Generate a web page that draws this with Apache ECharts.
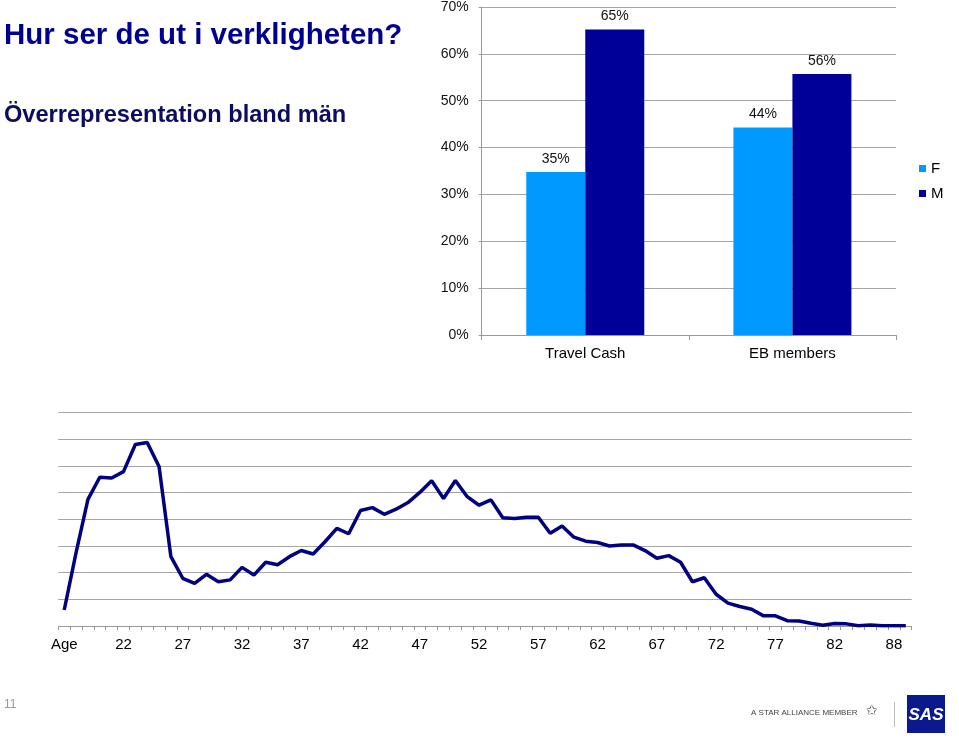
<!DOCTYPE html>
<html>
<head>
<meta charset="utf-8">
<script src="https://cdn.jsdelivr.net/npm/echarts@6/dist/echarts.min.js"></script>
<style>
html,body{margin:0;padding:0;background:#fff;}
#c{width:959px;height:739px;}
</style>
</head>
<body>
<div id="c"></div>
<script>
// Bar chart data
const barCategories = ['Travel Cash', 'EB members'];
const seriesF = [0.348, 0.443];
const seriesM = [0.652, 0.557];
const barTicks = [0, 0.1, 0.2, 0.3, 0.4, 0.5, 0.6, 0.7];

// Age distribution line data
const ageLabels = ['Age'];
for (let a = 18; a <= 86; a++) ageLabels.push(String(a));
ageLabels.push('88', '89');
const ageValues = [
  0.6, 2.75, 4.75, 5.58, 5.55, 5.79, 6.81, 6.88, 5.98, 2.6,
  1.79, 1.6, 1.94, 1.66, 1.73, 2.2, 1.91, 2.39, 2.3, 2.6,
  2.83, 2.7, 3.16, 3.66, 3.46, 4.33, 4.44, 4.19, 4.38, 4.63,
  5.01, 5.45, 4.78, 5.46, 4.85, 4.53, 4.73, 4.06, 4.03, 4.08,
  4.08, 3.48, 3.75, 3.33, 3.18, 3.13, 3.0, 3.04, 3.04, 2.83,
  2.54, 2.64, 2.39, 1.66, 1.81, 1.19, 0.86, 0.73, 0.63, 0.38,
  0.38, 0.2, 0.19, 0.1, 0.03, 0.09, 0.08, 0.01, 0.04, 0.01,
  0.01, 0.01
];

const chart = echarts.init(document.getElementById('c'));
const font = 'Liberation Sans, Arial, sans-serif';

chart.setOption({
  animation: false,
  backgroundColor: '#fff',
  textStyle: { fontFamily: font },
  legend: {
    data: ['F', 'M'],
    orient: 'vertical',
    left: 919,
    top: 161,
    padding: 0,
    itemWidth: 7,
    itemHeight: 7,
    itemGap: 10,
    icon: 'rect',
    textStyle: { fontSize: 15, color: '#000', fontFamily: font }
  },
  grid: [
    { left: 481.7, right: 63, top: 6.7, bottom: 404 },
    { left: 58.3, right: 47.3, top: 412.7, bottom: 113 }
  ],
  xAxis: [
    {
      type: 'category', gridIndex: 0, data: barCategories,
      axisLine: { lineStyle: { color: '#999', width: 1 } },
      axisTick: { show: true, length: 5, lineStyle: { color: '#999' } },
      axisLabel: { fontSize: 15, color: '#000', margin: 11, fontFamily: font }
    },
    {
      type: 'category', gridIndex: 1, data: ageLabels,
      axisLine: { lineStyle: { color: '#999', width: 1 } },
      axisTick: { show: true, interval: 0, length: 4, lineStyle: { color: '#999' } },
      axisLabel: { interval: 4, fontSize: 15, color: '#000', margin: 11, fontFamily: font }
    }
  ],
  yAxis: [
    {
      type: 'value', gridIndex: 0, min: 0, max: 0.7, interval: 0.1,
      axisLine: { show: true, lineStyle: { color: '#999' } },
      axisTick: { show: true, length: 3, lineStyle: { color: '#999' } },
      splitLine: { lineStyle: { color: '#a6a6a6', width: 1 } },
      axisLabel: {
        fontSize: 14, color: '#111', margin: 13, fontFamily: font,
        formatter: v => Math.round(v * 100) + '%'
      }
    },
    {
      type: 'value', gridIndex: 1, min: 0, max: 8, interval: 1,
      axisLine: { show: false },
      axisTick: { show: false },
      axisLabel: { show: false },
      splitLine: { lineStyle: { color: '#a6a6a6', width: 1 } }
    }
  ],
  series: [
    {
      name: 'F', type: 'bar', xAxisIndex: 0, yAxisIndex: 0, data: seriesF,
      barWidth: 59, barGap: '0%',
      itemStyle: { color: '#0099ff' },
      label: {
        show: true, position: 'top', distance: 6, fontSize: 14, color: '#111', fontFamily: font,
        formatter: p => Math.round(p.value * 100) + '%'
      }
    },
    {
      name: 'M', type: 'bar', xAxisIndex: 0, yAxisIndex: 0, data: seriesM,
      barWidth: 59, barGap: '0%',
      itemStyle: { color: '#000099' },
      label: {
        show: true, position: 'top', distance: 6, fontSize: 14, color: '#111', fontFamily: font,
        formatter: p => Math.round(p.value * 100) + '%'
      }
    },
    {
      name: 'Age', type: 'line', xAxisIndex: 1, yAxisIndex: 1, data: ageValues,
      symbol: 'none', lineStyle: { color: '#000080', width: 3.5 },
      itemStyle: { color: '#000080' }
    }
  ],
  graphic: [
    {
      type: 'text', left: 4, top: 21,
      style: { text: 'Hur ser de ut i verkligheten?', font: 'bold 29.5px ' + font, fill: '#000090' }
    },
    {
      type: 'text', left: 4, top: 103,
      style: { text: 'Överrepresentation bland män', font: 'bold 23.6px ' + font, fill: '#0c0c60' }
    },
    {
      type: 'text', left: 4, top: 699,
      style: { text: '11', font: '12px ' + font, fill: '#999' }
    },
    {
      type: 'text', left: 751, top: 709,
      style: { text: 'A STAR ALLIANCE MEMBER', font: '8px ' + font, fill: '#444' }
    },
    {
      type: 'text', left: 866, top: 704,
      style: { text: '✩', font: '14px DejaVu Sans', fill: '#555' }
    },
    {
      type: 'line', shape: { x1: 894.5, y1: 702, x2: 894.5, y2: 727 },
      style: { stroke: '#bbb', lineWidth: 1 }
    },
    {
      type: 'rect', shape: { x: 907, y: 695, width: 38, height: 38 },
      style: { fill: '#0a1a8c' }
    },
    {
      type: 'text', x: 926, y: 715,
      style: { text: 'SAS', font: 'italic bold 17px ' + font, fill: '#fff', align: 'center', verticalAlign: 'middle' }
    }
  ]
});
</script>
</body>
</html>
